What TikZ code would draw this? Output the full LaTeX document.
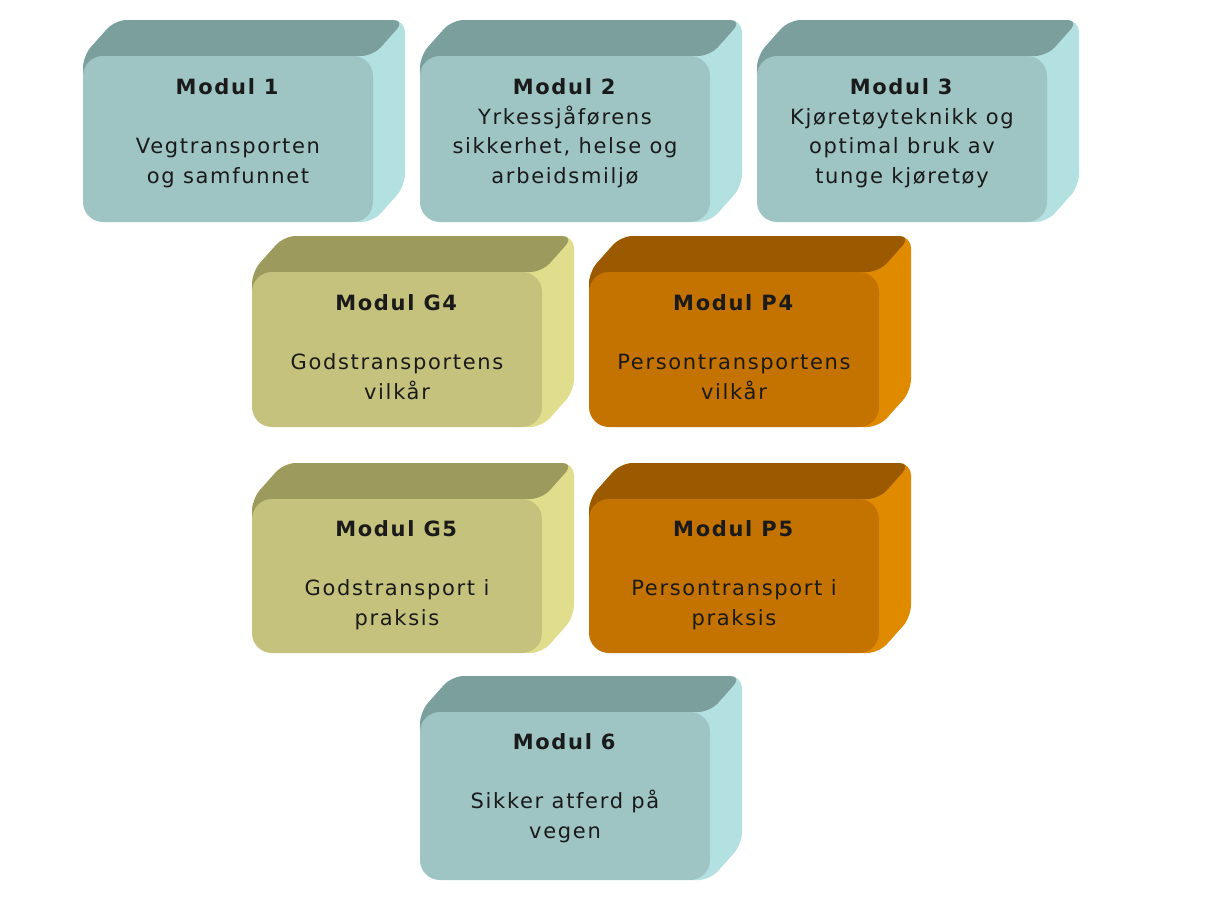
\documentclass[tikz,border=0pt]{standalone}
\usepackage{fontspec}
\newfontfamily\boxfont[LetterSpace=8]{DejaVu Sans}
\definecolor{tealF}{HTML}{9EC4C4}
\definecolor{tealT}{HTML}{7B9F9D}
\definecolor{tealS}{HTML}{B3E0E0}
\definecolor{oliveF}{HTML}{C4C27C}
\definecolor{oliveT}{HTML}{9C9A5C}
\definecolor{oliveS}{HTML}{E0DE8C}
\definecolor{orangeF}{HTML}{C47300}
\definecolor{orangeT}{HTML}{9C5A00}
\definecolor{orangeS}{HTML}{E08A00}
\definecolor{txt}{HTML}{1A1A1A}
\tikzset{
  boxtext/.style={align=center, inner sep=0pt, text=txt,
    font=\boxfont\fontsize{21}{29.5}\selectfont},
  facepath/.style={rounded corners=12pt, draw=none}
}
% #1 x1, #2 x2, #3 y1, #4 y2, #5 colour prefix, #6 node name, #7 text centre y, #8 text
\newcommand\modbox[8]{%
  \fill[facepath, #5S] ({#1+30},{(#3+#4)/2}) -- (#1,{#3+30}) -- (#1,#3) -- ({#1+32},{#3-36}) -- ({#2+32},{#3-36}) -- ({#2+32},{#4-36}) -- (#2,#4) -- ({#2-30},#4) -- cycle;
  \fill[facepath, #5T] (#1,{#3+40}) -- (#1,#3) -- ({#1+32},{#3-36}) -- ({#2+32},{#3-36}) -- (#2,#3) -- ({#2-40},#3) -- cycle;
  \fill[#5F, rounded corners=20pt] (#1,#3) rectangle (#2,#4);
  \node[boxtext] (#6) at ({(#1+#2)/2},#7) {#8};
}
\begin{document}
\begin{tikzpicture}[x=1pt,y=-1pt]
\useasboundingbox[fill=white] (0,0) rectangle (1209,903);
\modbox{83}{373}{56}{222}{teal}{m1}{133}{\textbf{Modul 1}\\[29.5pt]Vegtransporten\\og samfunnet}
\modbox{420}{710}{56}{222}{teal}{m2}{133}{\textbf{Modul 2}\\Yrkessjåførens\\sikkerhet, helse og\\arbeidsmiljø}
\modbox{757}{1047}{56}{222}{teal}{m3}{133}{\textbf{Modul 3}\\Kjøretøyteknikk og\\optimal bruk av\\tunge kjøretøy}
\modbox{252}{542}{272}{427}{olive}{g4}{347}{\textbf{Modul G4}\\[29.5pt]Godstransportens\\vilkår}
\modbox{589}{879}{272}{427}{orange}{p4}{347}{\textbf{Modul P4}\\[29.5pt]Persontransportens\\vilkår}
\modbox{252}{542}{499}{653}{olive}{g5}{575}{\textbf{Modul G5}\\[29.5pt]Godstransport i\\praksis}
\modbox{589}{879}{499}{653}{orange}{p5}{575}{\textbf{Modul P5}\\[29.5pt]Persontransport i\\praksis}
\modbox{420}{710}{712}{880}{teal}{m6}{788}{\textbf{Modul 6}\\[29.5pt]Sikker atferd på\\vegen}
\end{tikzpicture}
\end{document}
